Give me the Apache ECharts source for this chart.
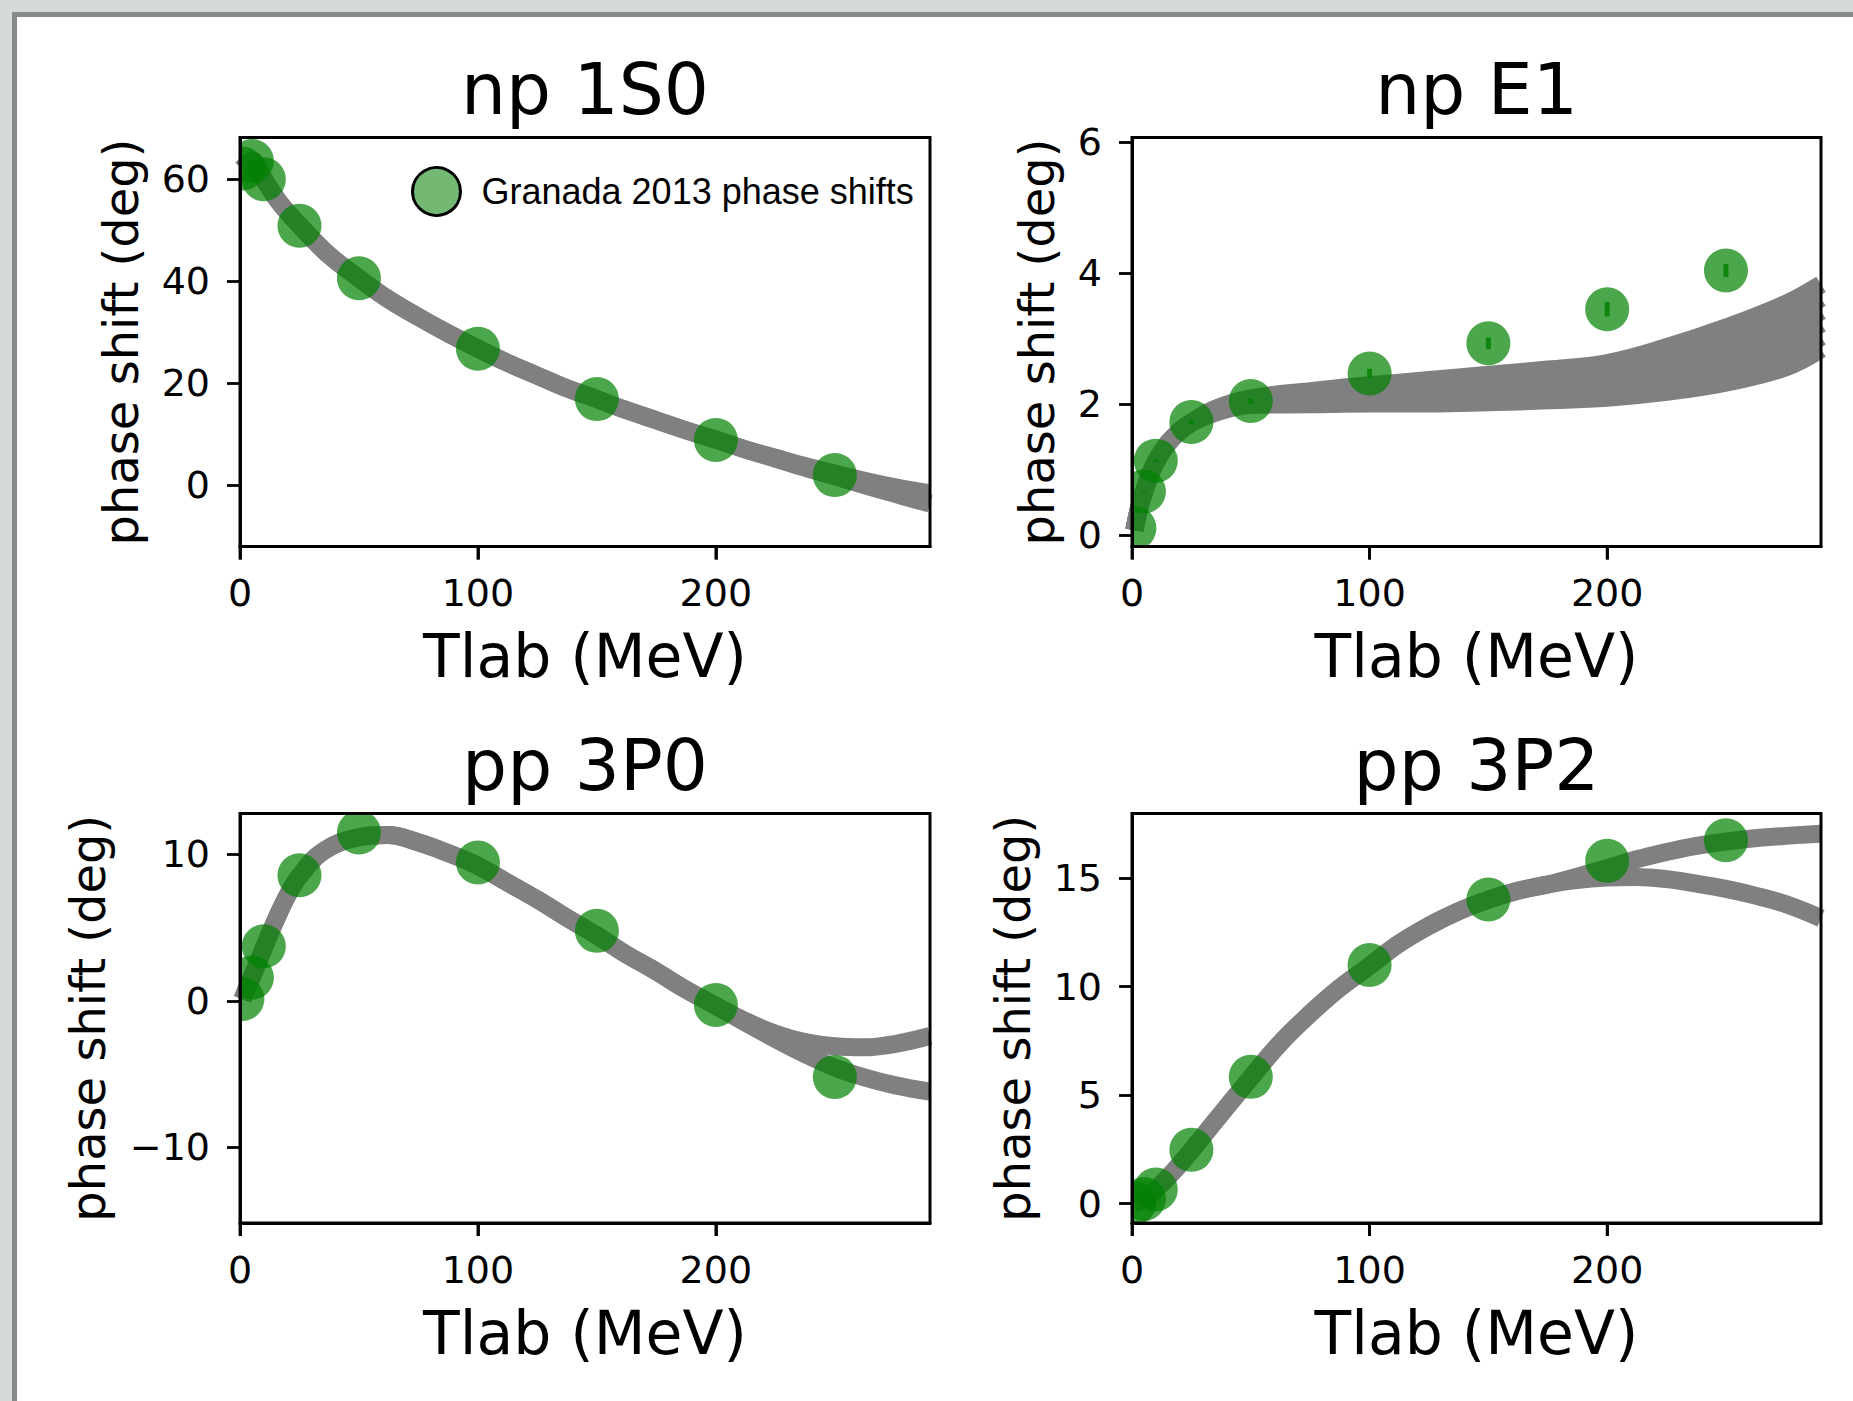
<!DOCTYPE html>
<html>
<head>
<meta charset="utf-8">
<title>NN phase shifts</title>
<script src="https://cdn.jsdelivr.net/npm/echarts@6/dist/echarts.min.js"></script>
<style>
  html, body { margin: 0; padding: 0; overflow: hidden; background: #d5d9d8; }
  #sheet {
    position: absolute; left: 12px; top: 12px; width: 1841px; height: 1389px;
    box-sizing: border-box; background: #fff;
    border-left: 5px solid #878b89; border-top: 5px solid #878b89;
  }
  #chart { position: absolute; left: 0; top: 0; width: 1853px; height: 1401px; }
</style>
</head>
<body>
<div id="sheet"></div>
<div id="chart"></div>
<script>
// Granada 2013 phase shifts (deg) at lab energies (MeV)
const tlab = [1, 5, 10, 25, 50, 100, 150, 200, 250];
const granada1S0 = [62.1, 63.6, 60.0, 50.9, 40.6, 26.8, 16.9, 8.9, 2.0];
const granadaE1 = [0.11, 0.67, 1.14, 1.73, 2.05, 2.47, 2.93, 3.45, 4.04];
const granadaE1Err = [0.0, 0.01, 0.02, 0.03, 0.04, 0.07, 0.09, 0.11, 0.1];
const granada3P0 = [0.13, 1.58, 3.72, 8.56, 11.47, 9.43, 4.77, -0.28, -5.19];
const granada3P2 = [0.03, 0.22, 0.65, 2.48, 5.84, 10.99, 14.01, 15.79, 16.74];

// model curves (gray band): shared part, then the branches
const t1S0 = [1, 5, 10, 17, 25, 37, 50, 62, 75, 87, 100, 112, 125, 137, 150, 162, 175, 187, 200, 212];
const band1S0 = [62.1, 63.6, 60.0, 55.2, 51.0, 45.3, 40.6, 36.6, 33.0, 29.9, 26.8, 24.1, 21.5, 19.1, 16.9, 14.8, 12.75, 10.85, 8.95, 7.1];
const t1S0Tail = [225, 237, 250, 262, 275, 290];
const tail1S0Hi = [5.4, 3.85, 2.3, 0.95, -0.35, -1.6];
const tail1S0Lo = [5.25, 3.5, 1.75, 0.1, -1.65, -3.6];

const tE1 = [1, 3, 5, 7.5, 10, 15, 20, 25];
const bandE1 = [0.08, 0.42, 0.66, 0.92, 1.12, 1.4, 1.59, 1.72];
const tE1Tail = [35, 50, 75, 100, 125, 150, 175, 200, 225, 250, 275, 290];
const tailE1A = [1.93, 2.09, 2.20, 2.29, 2.37, 2.45, 2.53, 2.63, 2.87, 3.17, 3.53, 3.83];
const tailE1B = [1.92, 2.07, 2.16, 2.23, 2.30, 2.37, 2.44, 2.51, 2.72, 3.00, 3.33, 3.62];
const tailE1C = [1.91, 2.05, 2.12, 2.18, 2.24, 2.30, 2.35, 2.40, 2.58, 2.83, 3.13, 3.42];
const tailE1D = [1.90, 2.03, 2.08, 2.12, 2.16, 2.20, 2.24, 2.28, 2.44, 2.66, 2.94, 3.23];
const tailE1E = [1.88, 2.01, 2.04, 2.06, 2.08, 2.11, 2.15, 2.19, 2.31, 2.50, 2.75, 3.03];
const tailE1F = [1.87, 1.99, 2.00, 2.01, 2.01, 2.03, 2.06, 2.10, 2.19, 2.33, 2.56, 2.84];

const t3P0 = [1, 3, 5, 7.5, 10, 15, 20, 25, 35, 50, 62, 75, 87, 100, 112, 125, 137, 150, 162, 175, 187, 200];
const band3P0 = [0.1, 0.9, 1.6, 2.6, 3.6, 5.5, 7.2, 8.5, 10.2, 11.15, 11.3, 10.8, 10.1, 9.2, 8.1, 6.9, 5.7, 4.45, 3.2, 2.0, 0.8, -0.35];
const t3P0Tail = [212, 225, 237, 250, 262, 275, 290];
const tail3P0Hi = [-1.35, -2.25, -2.8, -3.1, -3.17, -2.95, -2.4];
const tail3P0Lo = [-1.45, -2.6, -3.6, -4.55, -5.2, -5.75, -6.2];

const t3P2 = [1, 3, 5, 7.5, 10, 15, 20, 25, 35, 50, 62, 75, 87, 100, 112, 125, 137, 150, 162, 175];
const band3P2 = [0.02, 0.1, 0.22, 0.42, 0.65, 1.2, 1.8, 2.45, 3.8, 5.8, 7.35, 8.75, 9.9, 10.95, 11.95, 12.8, 13.45, 14.0, 14.4, 14.7];
const t3P2Tail = [187, 200, 212, 225, 237, 250, 262, 275, 290];
const tail3P2Hi = [15.05, 15.45, 15.85, 16.2, 16.47, 16.68, 16.83, 16.94, 17.04];
const tail3P2Lo = [14.9, 15.02, 15.05, 14.95, 14.75, 14.5, 14.2, 13.8, 13.15];

// axes
const panelTitles = ['np 1S0', 'np E1', 'pp 3P0', 'pp 3P2'];
const xRange = [0, 290];
const xTicks = [0, 100, 200];
const yRanges = [[-12.0, 68.2], [-0.17, 6.07], [-15.15, 12.77], [-0.89, 17.97]];
const yTicks = [[0, 20, 40, 60], [0, 2, 4, 6], [-10, 0, 10], [0, 5, 10, 15]];

const legendName = 'Granada 2013 phase shifts';
const FONT = 'DejaVu Sans';
const TICK_LEN = 13;

// plot boxes in pixels
const boxes = [
  { left: 240, top: 137.5, width: 690, height: 409, yGap: 95.5 },
  { left: 1132, top: 137.5, width: 689, height: 409, yGap: 71.5 },
  { left: 240, top: 813.5, width: 690, height: 409.5, yGap: 128 },
  { left: 1132, top: 813.5, width: 689, height: 409.5, yGap: 95.5 }
];

const zip = (xs, ys) => xs.map((x, k) => [x, ys[k]]);
const fmt = v => (v < 0 ? '\u2212' + Math.abs(v) : String(v));

const grids = boxes.map(b => ({
  left: b.left, top: b.top, width: b.width, height: b.height,
  show: true, borderColor: '#000', borderWidth: 3, backgroundColor: 'transparent',
  z: 10, outerBoundsMode: 'none'
}));

const xAxes = boxes.map((b, i) => ({
  type: 'value', gridIndex: i, min: xRange[0], max: xRange[1],
  name: 'Tlab (MeV)', nameLocation: 'middle', nameGap: 79.5,
  nameTextStyle: { fontFamily: FONT, fontSize: 60, color: '#000' },
  axisLine: { show: true, onZero: false, lineStyle: { color: '#000', width: 3 } },
  splitLine: { show: false },
  axisTick: { show: true, length: TICK_LEN, customValues: xTicks, lineStyle: { color: '#000', width: 2.8 } },
  axisLabel: { customValues: xTicks, margin: 27.5, fontFamily: FONT, fontSize: 38, color: '#000', formatter: fmt },
  z: 10
}));

const yAxes = boxes.map((b, i) => ({
  type: 'value', gridIndex: i, min: yRanges[i][0], max: yRanges[i][1],
  name: 'phase shift (deg)', nameLocation: 'middle', nameRotate: 90, nameGap: b.yGap,
  nameTextStyle: { fontFamily: FONT, fontSize: 48, color: '#000' },
  axisLine: { show: true, onZero: false, lineStyle: { color: '#000', width: 3 } },
  splitLine: { show: false },
  axisTick: { show: true, length: TICK_LEN, customValues: yTicks[i], lineStyle: { color: '#000', width: 2.8 } },
  axisLabel: { customValues: yTicks[i], margin: 30, fontFamily: FONT, fontSize: 38, color: '#000', formatter: fmt },
  z: 10
}));

function bandLine(i, xs, ys, xt, yt) {
  return {
    type: 'line', xAxisIndex: i, yAxisIndex: i,
    data: zip(xs, ys).concat(zip(xt, yt)),
    symbol: 'none', smooth: 0.4, clip: true, silent: true,
    lineStyle: { color: '#808080', width: 18, cap: 'butt', join: 'round' },
    z: 2
  };
}

function dots(i, ys) {
  return {
    type: 'custom', name: legendName, xAxisIndex: i, yAxisIndex: i,
    data: zip(tlab, ys), encode: { x: 0, y: 1 }, clip: true, silent: true, z: 4,
    itemStyle: { color: 'rgba(0,128,0,0.7)' },
    renderItem: (params, api) => {
      const p = api.coord([api.value(0), api.value(1)]);
      return { type: 'circle', shape: { cx: p[0], cy: p[1], r: 22 }, style: { fill: 'rgba(0,128,0,0.7)' } };
    }
  };
}

function errorBars(i, ys, errs) {
  return {
    type: 'custom', xAxisIndex: i, yAxisIndex: i,
    data: tlab.map((x, k) => [x, ys[k], errs[k]]), encode: { x: 0, y: 1 },
    clip: true, silent: true, z: 5,
    renderItem: (params, api) => {
      const x = api.value(0), y = api.value(1), e = api.value(2);
      const lo = api.coord([x, y - e]);
      const hi = api.coord([x, y + e]);
      return {
        type: 'rect',
        shape: { x: lo[0] - 2.5, y: hi[1], width: 5, height: lo[1] - hi[1] },
        style: { fill: 'rgba(0,128,0,0.8)' }
      };
    }
  };
}

const series = [
  bandLine(0, t1S0, band1S0, t1S0Tail, tail1S0Hi),
  bandLine(0, t1S0, band1S0, t1S0Tail, tail1S0Lo),
  bandLine(1, tE1, bandE1, tE1Tail, tailE1A),
  bandLine(1, tE1, bandE1, tE1Tail, tailE1B),
  bandLine(1, tE1, bandE1, tE1Tail, tailE1C),
  bandLine(1, tE1, bandE1, tE1Tail, tailE1D),
  bandLine(1, tE1, bandE1, tE1Tail, tailE1E),
  bandLine(1, tE1, bandE1, tE1Tail, tailE1F),
  bandLine(2, t3P0, band3P0, t3P0Tail, tail3P0Hi),
  bandLine(2, t3P0, band3P0, t3P0Tail, tail3P0Lo),
  bandLine(3, t3P2, band3P2, t3P2Tail, tail3P2Hi),
  bandLine(3, t3P2, band3P2, t3P2Tail, tail3P2Lo),
  dots(0, granada1S0),
  dots(1, granadaE1),
  errorBars(1, granadaE1, granadaE1Err),
  dots(2, granada3P0),
  dots(3, granada3P2)
];

const titles = boxes.map((b, i) => ({
  text: panelTitles[i],
  left: b.left + b.width / 2,
  top: b.top - 83.5,
  textAlign: 'center',
  padding: 0,
  textStyle: { fontFamily: FONT, fontSize: 71, fontWeight: 'normal', color: '#000' }
}));

// bottom tick marks, one per x tick value, hung under each plot box
const tickMarks = [];
boxes.forEach(b => {
  const yBottom = b.top + b.height;
  xTicks.forEach(v => {
    const xPx = b.left + (v - xRange[0]) / (xRange[1] - xRange[0]) * b.width;
    tickMarks.push({
      type: 'rect', z: 100, silent: true,
      shape: { x: xPx - 1.4, y: yBottom, width: 2.8, height: TICK_LEN },
      style: { fill: '#000' }
    });
  });
});

const chart = echarts.init(document.getElementById('chart'), null, { renderer: 'svg' });
chart.setOption({
  animation: false,
  backgroundColor: 'transparent',
  title: titles,
  legend: {
    data: [{ name: legendName, icon: 'circle' }],
    left: 411, top: 166, padding: 0,
    itemWidth: 80, itemHeight: 48,
    selectedMode: false,
    itemStyle: { color: 'rgba(0,128,0,0.55)', borderColor: '#000', borderWidth: 3 },
    textStyle: { fontFamily: 'Liberation Sans', fontSize: 36, color: '#000' }
  },
  grid: grids,
  xAxis: xAxes,
  yAxis: yAxes,
  graphic: { elements: tickMarks },
  series: series
});
</script>
</body>
</html>
